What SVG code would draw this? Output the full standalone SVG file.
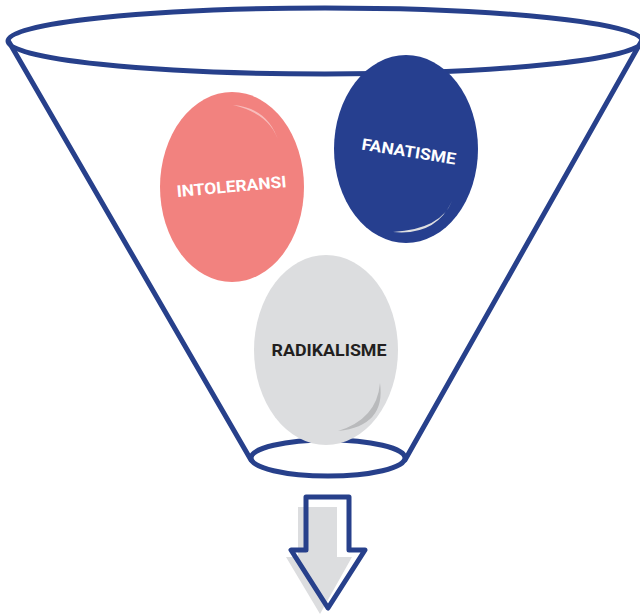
<svg xmlns="http://www.w3.org/2000/svg" width="640" height="614" viewBox="0 0 640 614">
<style>
.fun{fill:none;stroke:#27408b;stroke-width:5;stroke-linejoin:round;stroke-linecap:round}
.lbl{font-family:Roboto,"Liberation Sans",sans-serif;font-weight:bold;font-size:16px;text-anchor:middle}
</style>
<rect width="640" height="614" fill="#ffffff"/>
<g id="funnel">
<ellipse class="fun" cx="325" cy="41" rx="317" ry="33"/>
<line class="fun" x1="9" y1="42" x2="251" y2="460"/>
<line class="fun" x1="641" y1="42" x2="405" y2="460"/>
<ellipse class="fun" cx="328" cy="458" rx="77" ry="18"/>
</g>
<g id="radikalisme">
<ellipse cx="326" cy="350" rx="72" ry="95" fill="#dcdddf"/>
<path d="M380,383 Q377,419 338,431 Q386,426 380,383 Z" fill="#b9babc"/>
<text class="lbl" x="329" y="356" fill="#231f20" textLength="115" lengthAdjust="spacingAndGlyphs">RADIKALISME</text>
</g>
<g id="intoleransi">
<ellipse cx="232" cy="187" rx="72" ry="95" fill="#f2827f"/>
<path d="M233,105 Q269,108 279,143 Q271,114 233,105 Z" fill="#f8bcbb"/>
<text class="lbl" x="232" y="192" fill="#ffffff" textLength="110" lengthAdjust="spacingAndGlyphs" transform="rotate(-5.2 232 192)">INTOLERANSI</text>
</g>
<g id="fanatisme">
<ellipse cx="406" cy="149" rx="72" ry="94" fill="#263f8f"/>
<path d="M452,201 Q441,229 393,232 Q436,236 452,201 Z" fill="#dedfe1"/>
<text class="lbl" x="408" y="157" fill="#ffffff" textLength="95" lengthAdjust="spacingAndGlyphs" transform="rotate(9 408 157)">FANATISME</text>
</g>
<g id="connectors">
<polygon points="298,507 337,507 337,557 352,557 320,614 286,557 298,557" fill="#dcdddf"/>
<path class="fun" d="M306,497 H349 V550 H365 L328,608 L291,550 H306 Z"/>
</g>
</svg>
